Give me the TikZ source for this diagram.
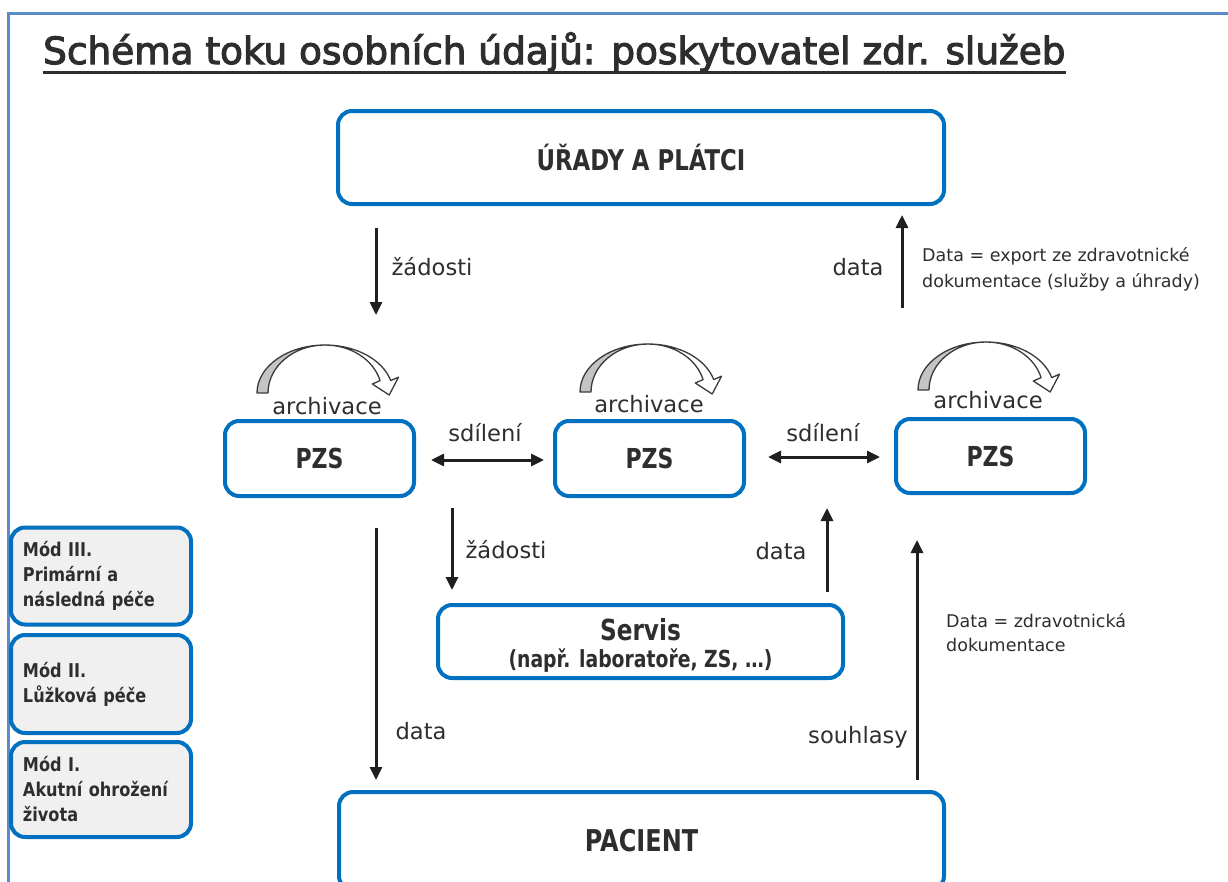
\documentclass[tikz,border=0pt]{standalone}
\usepackage{fontspec}
\setmainfont{DejaVu Sans}
\newfontfamily\cbf[FakeStretch=0.8]{DejaVu Sans}
\newfontfamily\mbf[FakeStretch=0.85]{DejaVu Sans}
\newfontfamily\titlefont[FakeBold=3]{DejaVu Sans}
\usetikzlibrary{arrows.meta,calc}
\definecolor{boxblue}{HTML}{0070C0}
\definecolor{frameblue}{HTML}{5B8BC8}
\definecolor{txt}{HTML}{2E2E2E}
\definecolor{modefill}{HTML}{F0F0F0}
\definecolor{archgray}{HTML}{C4C4C4}
\definecolor{archline}{HTML}{3A3A3A}
\tikzset{
  archarrow/.pic={
    \filldraw[fill=archgray, draw=archline, line width=1.3pt, line join=round]
      (0,0) arc[start angle=180,end angle=270,x radius=68,y radius=48]
      arc[start angle=270,end angle=180,x radius=57,y radius=48] -- cycle;
    \filldraw[fill=white, draw=archline, line width=1.3pt, line join=round]
      (68,-48) arc[start angle=270,end angle=345,x radius=68,y radius=48]
      -- (141.5,-15.8) -- (132.2,2) -- (115.3,-9) -- (123.1,-12.4)
      arc[start angle=345,end angle=270,x radius=57,y radius=48] -- cycle;
  }
}
\begin{document}
\begin{tikzpicture}[x=1pt,y=-1pt,
  box/.style={draw=boxblue, line width=4pt, rounded corners=14pt, fill=white,
    inner sep=0pt, text=txt, font=\cbf\bfseries\fontsize{27.5}{32}\selectfont},
  modebox/.style={draw=boxblue, line width=4pt, rounded corners=14pt, fill=modefill,
    text=txt, font=\mbf\bfseries\fontsize{19}{25}\selectfont, align=left,
    text width=156pt, inner xsep=12pt, inner ysep=0pt, minimum width=180pt},
  arr/.style={line width=3pt, draw=black!88, -{Triangle[length=13pt,width=12pt]}},
  darr/.style={line width=3pt, draw=black!88,
    {Triangle[length=13pt,width=12pt]}-{Triangle[length=13pt,width=12pt]}},
  lbl/.style={text=txt, font=\fontsize{22.6}{27}\selectfont, inner sep=0pt},
  note/.style={text=txt, align=left, inner sep=0pt},
  bl/.style={text=txt, inner sep=0pt}
]
\useasboundingbox (0,0) rectangle (1228,881);
% frame
\draw[frameblue, line width=3pt] (1235,13) -- (8,13) -- (8,890);

% title
\node[anchor=base west, inner sep=0pt, text=txt,
  font=\titlefont\fontsize{37.4}{44}\selectfont] (title) at (43,64)
  {Schéma toku osobních údajů: poskytovatel zdr. služeb};
\draw[txt, line width=3.5pt] ($(title.base west)+(0,8.5)$) -- ($(title.base east)+(0,8.5)$);

% main boxes
\node[box, minimum width=606pt, minimum height=93pt, font=\cbf\bfseries\fontsize{28.5}{32}\selectfont] (urady) at (641,157.5) {ÚŘADY A PLÁTCI};
\node[box, minimum width=189pt, minimum height=75pt] (pzs1) at (319.5,458.5) {PZS};
\node[box, minimum width=189pt, minimum height=75pt] (pzs2) at (649.5,458.5) {PZS};
\node[box, minimum width=189pt, minimum height=74pt] (pzs3) at (990.5,456) {PZS};
\node[box, minimum width=405pt, minimum height=73pt] (servis) at (640.5,641.5) {};
\node[bl, font=\cbf\bfseries\fontsize{29}{34}\selectfont] (servist) at ($(servis.center)+(0,-12)$) {Servis};
\node[bl, font=\cbf\bfseries\fontsize{23.5}{28}\selectfont] (servisp) at ($(servis.center)+(0,19)$) {(např. laboratoře, ZS, …)};
\node[box, minimum width=605pt, minimum height=98pt, font=\cbf\bfseries\fontsize{30}{34}\selectfont] (pacient) at (641.5,841) {PACIENT};

% mode boxes
\node[modebox, minimum height=97pt] (m3) at (101,576) {Mód III.\\Primární a\\následná péče};
\node[modebox, minimum height=98pt] (m2) at (101,684) {Mód II.\\Lůžková péče};
\node[modebox, minimum height=95pt] (m1) at (101,789.5) {Mód I.\\Akutní ohrožení\\života};

% archivace arrows
\pic at (257,393) {archarrow};
\pic at (580,392) {archarrow};
\pic at (918,390) {archarrow};
\node[lbl] (arch1) at (327,406) {archivace};
\node[lbl] (arch2) at (649,404) {archivace};
\node[lbl] (arch3) at (988,400) {archivace};

% connector end points
\coordinate (a1s) at (376,228); \coordinate (a1e) at (376,315);
\coordinate (a2s) at (902,308); \coordinate (a2e) at (902,215);
\coordinate (s1a) at (431,460); \coordinate (s1b) at (544,460);
\coordinate (s2a) at (768,457); \coordinate (s2b) at (880,457);
\coordinate (d1s) at (376,528); \coordinate (d1e) at (376,780);
\coordinate (z2s) at (452,508); \coordinate (z2e) at (452,590);
\coordinate (d2s) at (827,592); \coordinate (d2e) at (827,508);
\coordinate (sos) at (917,780); \coordinate (soe) at (917,540);

\draw[arr] (a1s) -- (a1e);
\draw[arr] (a2s) -- (a2e);
\draw[darr] (s1a) -- (s1b);
\draw[darr] (s2a) -- (s2b);
\draw[arr] (d1s) -- (d1e);
\draw[arr] (z2s) -- (z2e);
\draw[arr] (d2s) -- (d2e);
\draw[arr] (sos) -- (soe);

% labels
\node[lbl] (l1) at (432,267) {žádosti};
\node[lbl] (l2) at (858,267) {data};
\node[lbl] (l3) at (485,433) {sdílení};
\node[lbl] (l4) at (823,433) {sdílení};
\node[lbl] (l5) at (506,550) {žádosti};
\node[lbl] (l6) at (781,551) {data};
\node[lbl] (l7) at (421,731) {data};
\node[lbl] (l8) at (858,737) {souhlasy};

\node[note, anchor=west, font=\fontsize{17.5}{26}\selectfont] (n1) at (922,269)
  {Data = export ze zdravotnické\\dokumentace (služby a úhrady)};
\node[note, anchor=west, font=\fontsize{17.5}{24}\selectfont] (n2) at (946,633)
  {Data = zdravotnická\\dokumentace};
\end{tikzpicture}
\end{document}
